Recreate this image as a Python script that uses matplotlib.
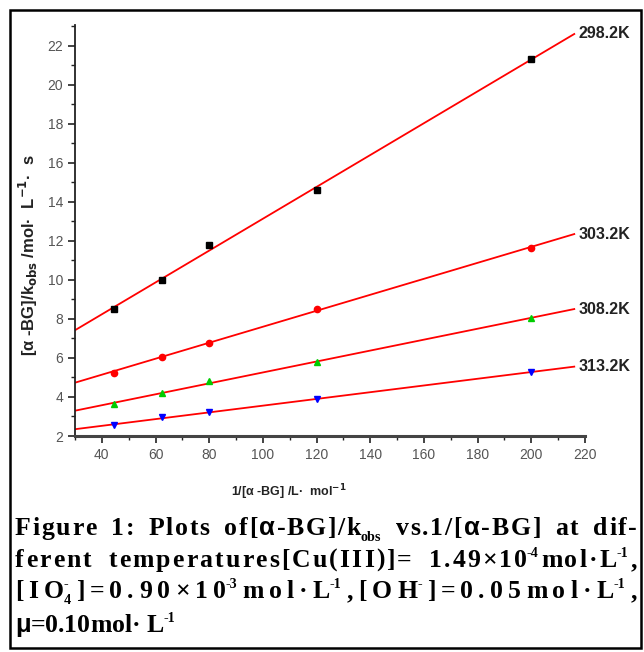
import re
import numpy as np
import matplotlib
matplotlib.use("Agg")
import matplotlib.pyplot as plt
from matplotlib.patches import Rectangle

# data
conc_inv = [44.4, 62.5, 80, 120, 200]
temps = ["298.2K", "303.2K", "308.2K", "313.2K"]
y_298 = [8.5, 10.0, 11.8, 14.6, 21.3]
y_303 = [5.25, 6.07, 6.78, 8.53, 11.63]
y_308 = [3.62, 4.19, 4.84, 5.78, 8.04]
y_313 = [2.55, 2.96, 3.21, 3.90, 5.27]
fit_range = [30, 216]

series = [y_298, y_303, y_308, y_313]
markers = ["s", "o", "^", "v"]
mcolors = ["black", "red", "#00cc00", "blue"]

W, H = 644, 652
fig = plt.figure(figsize=(W / 100, H / 100), dpi=100)

ax = fig.add_axes([75 / W, 1 - 436 / H, (585 - 75) / W, (436 - 25) / H])

for ys, m, c, lab in zip(series, markers, mcolors, temps):
    k, b = np.polyfit(conc_inv, ys, 1)
    xs = np.array(fit_range)
    ax.plot(xs, k * xs + b, color="red", lw=1.3, zorder=2)
    ax.plot(conc_inv, ys, ls="none", marker=m, color=c, markersize=4.5, zorder=3)
    ax.annotate(lab, (xs[-1], k * xs[-1] + b), xytext=(3, 0), textcoords="offset points",
                ha="left", va="center", fontsize=11.5, fontweight="bold",
                family="Liberation Sans", color="#222222", annotation_clip=False)

ax.set_xlim(30, 220)
ax.set_ylim(2, 23.05)
ax.set_xticks(np.arange(40, 221, 20))
ax.set_xticks(np.arange(30, 221, 10), minor=True)
ax.set_yticks(np.arange(2, 23, 2))
ax.set_yticks(np.arange(2, 24, 1), minor=True)
ax.spines["top"].set_visible(False)
ax.spines["right"].set_visible(False)
ax.spines["left"].set_linewidth(1.3)
ax.spines["left"].set_color("#222222")
ax.spines["bottom"].set_linewidth(2.2)
ax.spines["bottom"].set_color("#444444")
ax.tick_params(which="major", direction="out", length=5, width=1.2, color="#222222",
               labelsize=10, labelcolor="#555555")
ax.tick_params(which="minor", direction="out", length=3, width=1.0, color="#222222")
for t in ax.get_xticklabels() + ax.get_yticklabels():
    t.set_family("Liberation Sans")

fig.text(28 / W, 1 - 255 / H, r"[α -BG]/k$_{\mathbf{obs}}$ /mol·  L$^{\mathbf{-1}}$·  s",
         rotation=90, ha="center", va="center", fontsize=12, fontweight="bold",
         family="Liberation Sans", color="#222222", math_fontfamily="dejavusans")
fig.text(289 / W, 1 - 492 / H, r"1/[α -BG] /L·  mol$^{\mathbf{-1}}$",
         ha="center", va="center", fontsize=9, fontweight="bold",
         family="Liberation Sans", color="#222222", math_fontfamily="dejavusans")

# caption: ^{..} superscript, _{..} subscript, justified between the frame edges
cap_lines = [
    "Figure 1: Plots of[α-BG]/k_{obs} vs.1/[α-BG] at dif-",
    "ferent temperatures[Cu(III)]= 1.49×10^{-4}mol·L^{-1},",
    "[IO_{4}^{-}]=0.90×10^{-3}mol·L^{-1},[OH^{-}]=0.05mol·L^{-1},",
]
cap_last = "μ=0.10mol· L^{-1}"
cap_base = [535, 567, 598]
last_base = 632
fs = 18.5
px = fs * 100 / 72
cap_kw = dict(fontweight="bold", color="black", va="baseline", ha="left")
renderer = fig.canvas.get_renderer()


def units_of(line):
    units = []
    for tok in re.findall(r"\^\{[^}]*\}|_\{[^}]*\}|.", line):
        if tok[0] in "^_" and len(tok) > 1 and units:
            units[-1].append((tok[0], tok[2:-1]))
        else:
            units.append([("n", tok)])
    return units


def place_unit(unit, x, yb):
    # draws a base glyph with its scripts, returns the advance
    kind, txt = unit[0]
    if txt == " ":
        return 0.25 * px, None
    fam = "Liberation Sans" if txt in "αμ" else "Liberation Serif"
    objs = []
    o = fig.text(x / W, 1 - yb / H, txt, fontsize=fs, family=fam, **cap_kw)
    w = o.get_window_extent(renderer).width
    objs.append(o)
    sx = x + w
    adv = w
    prev = None
    for kind, s in unit[1:]:
        if kind == "^":
            dy, size = -0.40 * px, fs * 0.55
        else:
            dy, size = 0.22 * px, fs * 0.55
        if prev == "_" and kind == "^":
            xs = x + w
        else:
            xs = sx
        o = fig.text(xs / W, 1 - (yb + dy) / H, s, fontsize=size,
                     family="Liberation Serif", **cap_kw)
        sw = o.get_window_extent(renderer).width
        objs.append(o)
        sx = max(sx, xs + sw)
        adv = sx - x
        prev = kind
    return adv, objs


x0, x1 = 15, 637
for line, yb in zip(cap_lines, cap_base):
    units = units_of(line)
    placed = []
    total = 0
    for u in units:
        adv, objs = place_unit(u, 0, yb)
        placed.append((adv, objs, u[0][1] == " "))
        total += adv
    nspace = sum(1 for p in placed if p[2])
    wsp = 3 if nspace else 0
    weight = (len(placed) - 1) + wsp * nspace
    extra = ((x1 - x0) - total) / weight
    x = x0
    for adv, objs, is_space in placed:
        if objs:
            for o in objs:
                o.set_x(o.get_position()[0] + x / W)
        x += adv + extra + (wsp * extra if is_space else 0)

xl = x0
for u in units_of(cap_last):
    adv, _ = place_unit(u, xl, last_base)
    xl += adv

fig.patches.append(Rectangle((10 / W, 4 / H), (641 - 10) / W, (642 - 4) / H,
                             transform=fig.transFigure, fill=False, lw=1.8,
                             edgecolor="black"))

fig.savefig("out.png", dpi=100)
